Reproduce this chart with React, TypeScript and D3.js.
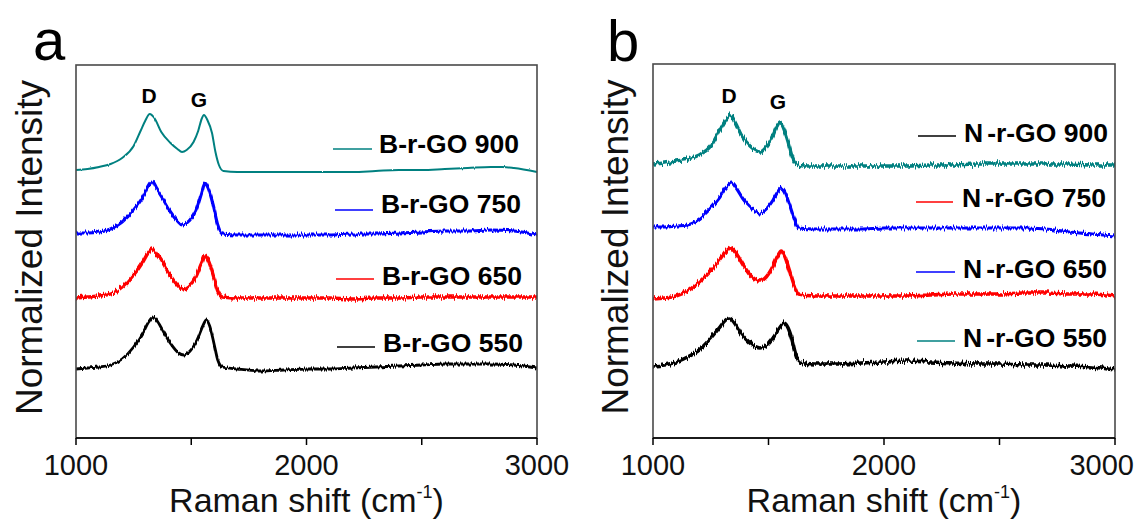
import React from "react";
import * as d3 from "d3";

// ---------- DATA ----------
// Panel a : B-r-GO (Raman shift in cm-1, normalized intensity with stacking offset, a.u.)
const bRGO900_x = [1000,1050,1100,1150,1200,1250,1280,1300,1320,1340,1370,1410,1440,1460,1480,1510,1530,1545,1555,1570,1590,1605,1620,1640,1700,1800,1900,2000,2100,2200,2300,2400,2500,2600,2700,2800,2850,2900,3000];
const bRGO900_y = [268,269,271,274,280,292,307,317,324,320,306,295,289,286,288,296,307,319,323,318,305,286,273,267,266,266,266,266,266,266,267,268,268,269,270,271,271,270,266];

const bRGO750_x = [1000,1050,1100,1150,1200,1250,1290,1310,1330,1350,1380,1410,1440,1460,1490,1520,1545,1560,1575,1595,1615,1635,1700,1800,1900,2000,2100,2200,2300,2400,2500,2600,2700,2800,2900,3000];
const bRGO750_y = [205,205,206,209,216,228,241,250,256,249,238,226,217,213,217,227,245,255,249,233,213,204,203,203,203,203,203,204,204,205,206,207,207,208,207,203];

const bRGO650_x = [1000,1050,1100,1150,1200,1250,1290,1310,1330,1350,1380,1410,1440,1460,1490,1520,1545,1560,1575,1595,1615,1635,1700,1800,1900,2000,2100,2200,2300,2400,2500,2600,2700,2800,2900,3000];
const bRGO650_y = [140,141,142,144,151,163,176,184,189,184,174,162,153,149,152,161,175,182,177,163,147,141,140,140,140,140,140,139,140,140,141,141,141,141,141,141];

const bRGO550_x = [1000,1050,1100,1150,1200,1250,1290,1315,1335,1355,1385,1415,1445,1468,1495,1525,1550,1565,1580,1600,1615,1635,1700,1800,1900,2000,2100,2200,2300,2400,2500,2600,2700,2800,2900,3000];
const bRGO550_y = [69,70,71,73,79,91,105,116,121,116,104,93,85,83,87,98,112,118,112,93,78,71,69,67,68,69,69,70,71,72,73,74,74,74,73,70];

// Panel b : N-r-GO
const nRGO900_x = [1000,1050,1100,1150,1200,1250,1290,1315,1335,1355,1380,1420,1463,1490,1515,1535,1550,1565,1585,1600,1615,1650,1700,1800,1900,2000,2100,2200,2300,2400,2500,2600,2700,2800,2900,3000];
const nRGO900_y = [274,275,277,279,283,292,308,318,323,316,304,292,286,291,300,311,316,310,296,283,275,272,272,272,272,272,272,273,273,274,274,274,274,274,273,273];

const nRGO750_x = [1000,1050,1100,1150,1200,1250,1290,1315,1340,1360,1390,1420,1463,1490,1520,1540,1555,1570,1590,1610,1630,1700,1800,1900,2000,2100,2200,2300,2400,2500,2600,2700,2800,2900,3000];
const nRGO750_y = [211,211,212,213,219,230,241,250,255,250,239,231,225,229,238,246,250,246,234,220,210,209,209,209,210,210,210,210,210,210,210,209,206,204,202];

const nRGO650_x = [1000,1050,1100,1150,1200,1250,1290,1315,1335,1355,1390,1420,1463,1490,1520,1540,1555,1570,1590,1610,1630,1700,1800,1900,2000,2100,2200,2300,2400,2500,2600,2700,2800,2900,3000];
const nRGO650_y = [139,140,142,147,156,167,178,186,190,186,173,163,157,161,172,182,187,182,168,153,144,142,142,142,142,142,143,144,144,144,145,145,144,144,142];

const nRGO550_x = [1000,1050,1100,1150,1200,1250,1290,1310,1330,1350,1380,1420,1463,1495,1520,1545,1568,1585,1600,1615,1635,1700,1800,1900,2000,2100,2200,2300,2400,2500,2600,2700,2800,2900,3000];
const nRGO550_y = [72,73,76,81,88,100,111,117,120,116,105,95,90,93,100,109,115,110,100,86,76,74,74,75,76,77,76,75,74,74,73,73,72,71,68];

const xTicksMajor = [1000, 2000, 3000];
const xTicksMinor = [1500, 2500];
const panelLetters = ["a", "b"];
const peakLabels = ["D", "G"];
const legendA = ["B-r-GO 900", "B-r-GO 750", "B-r-GO 650", "B-r-GO 550"];
const legendB = ["900", "750", "650", "550"];

const TEAL = "#008080";
const BLUE = "#0000ff";
const RED = "#ff0000";
const BLACK = "#000000";

const FONT = "'Liberation Sans', Arial, Helvetica, sans-serif";

type Series = { xs: number[]; ys: number[]; color: string; width: number; noise: number };

const panels = [
  {
    id: "a",
    letter: panelLetters[0],
    left: 76, right: 537, top: 65, bottom: 438,
    letterX: 33, letterY: 60,
    yLabelX: 42,
    lastTickAnchor: "middle",
    series: [
      { xs: bRGO900_x, ys: bRGO900_y, color: TEAL, width: 2, noise: 2 },
      { xs: bRGO750_x, ys: bRGO750_y, color: BLUE, width: 3.2, noise: 6 },
      { xs: bRGO650_x, ys: bRGO650_y, color: RED, width: 3.4, noise: 8 },
      { xs: bRGO550_x, ys: bRGO550_y, color: BLACK, width: 2.8, noise: 5 },
    ] as Series[],
    peaks: [
      { label: peakLabels[0], x: 149, y: 103 },
      { label: peakLabels[1], x: 199, y: 107 },
    ],
    legend: [
      { text: legendA[0], color: TEAL, lineY: 149, textY: 153, x1: 333, x2: 372, tx: 379, nSplit: false },
      { text: legendA[1], color: BLUE, lineY: 210, textY: 213, x1: 335, x2: 373, tx: 381, nSplit: false },
      { text: legendA[2], color: RED, lineY: 279, textY: 285, x1: 336, x2: 374, tx: 382, nSplit: false },
      { text: legendA[3], color: BLACK, lineY: 347, textY: 352, x1: 337, x2: 375, tx: 383, nSplit: false },
    ],
  },
  {
    id: "b",
    letter: panelLetters[1],
    left: 653, right: 1115, top: 64, bottom: 438,
    letterX: 607, letterY: 61,
    yLabelX: 628,
    lastTickAnchor: "end",
    series: [
      { xs: nRGO900_x, ys: nRGO900_y, color: TEAL, width: 3.4, noise: 8 },
      { xs: nRGO750_x, ys: nRGO750_y, color: BLUE, width: 3.2, noise: 7 },
      { xs: nRGO650_x, ys: nRGO650_y, color: RED, width: 3.6, noise: 8 },
      { xs: nRGO550_x, ys: nRGO550_y, color: BLACK, width: 3.6, noise: 8 },
    ] as Series[],
    peaks: [
      { label: peakLabels[0], x: 729, y: 103 },
      { label: peakLabels[1], x: 778, y: 109 },
    ],
    legend: [
      { text: legendB[0], color: BLACK, lineY: 136, textY: 142, x1: 918, x2: 956, tx: 964, nSplit: true },
      { text: legendB[1], color: RED, lineY: 202, textY: 207, x1: 916, x2: 953, tx: 962, nSplit: true },
      { text: legendB[2], color: BLUE, lineY: 272, textY: 278, x1: 916, x2: 955, tx: 963, nSplit: true },
      { text: legendB[3], color: TEAL, lineY: 341, textY: 347, x1: 917, x2: 955, tx: 963, nSplit: true },
    ],
  },
];

function NoiseFilter({ id, scale, seed }: { id: string; scale: number; seed: number }) {
  return (
    <filter id={id} x="-5%" y="-30%" width="110%" height="160%">
      <feTurbulence type="fractalNoise" baseFrequency="0.9 0.04" numOctaves={2} seed={seed} result="n" />
      <feColorMatrix
        in="n"
        type="matrix"
        values="0 0 0 0 0.5  0 1 0 0 0  0 0 1 0 0  0 0 0 0 1"
        result="m"
      />
      <feDisplacementMap in="SourceGraphic" in2="m" scale={scale} xChannelSelector="R" yChannelSelector="G" />
    </filter>
  );
}

function Panel({ p }: { p: (typeof panels)[number] }) {
  const x = d3.scaleLinear().domain([1000, 3000]).range([p.left, p.right]);
  const y = d3.scaleLinear().domain([0, 373]).range([438, 65]);
  const line = d3
    .line<[number, number]>()
    .x((d) => x(d[0]))
    .y((d) => y(d[1]))
    .curve(d3.curveMonotoneX);
  const cx = (p.left + p.right) / 2;
  const cy = (p.top + p.bottom) / 2;
  return (
    <g>
      <defs>
        {p.series.map((s, i) => (
          <NoiseFilter key={i} id={`noise-${p.id}-${i}`} scale={s.noise} seed={i * 7 + (p.id === "a" ? 3 : 11)} />
        ))}
      </defs>
      {/* series */}
      {p.series.map((s, i) => (
        <path
          key={i}
          d={line(s.xs.map((v, j) => [v, s.ys[j]] as [number, number])) || ""}
          fill="none"
          stroke={s.color}
          strokeWidth={s.width}
          strokeLinejoin="round"
          filter={`url(#noise-${p.id}-${i})`}
        />
      ))}
      {/* frame */}
      <rect
        x={p.left}
        y={p.top}
        width={p.right - p.left}
        height={p.bottom - p.top}
        fill="none"
        stroke="#4a4a4a"
        strokeWidth={1.6}
      />
      <line x1={p.left} x2={p.right} y1={p.bottom} y2={p.bottom} stroke="#000" strokeWidth={1.6} />
      {/* ticks */}
      {[...xTicksMajor, ...xTicksMinor].map((t) => (
        <line key={t} x1={x(t)} x2={x(t)} y1={p.bottom} y2={p.bottom + 7} stroke="#000" strokeWidth={1.5} />
      ))}
      {xTicksMajor.map((t, i) => {
        const last = i === xTicksMajor.length - 1 && p.lastTickAnchor === "end";
        return (
          <text
            key={t}
            x={last ? 1134 : x(t)}
            y={475}
            textAnchor={last ? "end" : "middle"}
            fontFamily={FONT}
            fontSize={29}
            fill="#111"
          >
            {t}
          </text>
        );
      })}
      {/* axis titles */}
      <text x={cx} y={512} textAnchor="middle" fontFamily={FONT} fontSize={34} fill="#111">
        Raman shift (cm
        <tspan fontSize={18} dy={-14}>-1</tspan>
        <tspan dy={14}>)</tspan>
      </text>
      <text
        transform={`translate(${p.yLabelX},${cy - 4}) rotate(-90)`}
        textAnchor="middle"
        fontFamily={FONT}
        fontSize={37}
        fill="#111"
      >
        Normalized Intensity
      </text>
      {/* panel letter */}
      <text x={p.letterX} y={p.letterY} fontFamily={FONT} fontSize={58} fill="#000">
        {p.letter}
      </text>
      {/* peak labels */}
      {p.peaks.map((k) => (
        <text key={k.label} x={k.x} y={k.y} textAnchor="middle" fontFamily={FONT} fontWeight="bold" fontSize={21} fill="#000">
          {k.label}
        </text>
      ))}
      {/* legend */}
      {p.legend.map((l, i) => (
        <g key={i}>
          <line x1={l.x1} x2={l.x2} y1={l.lineY} y2={l.lineY} stroke={l.color} strokeWidth={1.6} />
          <text x={l.tx} y={l.textY} fontFamily={FONT} fontWeight="bold" fontSize={26.5} fill="#000">
            {l.nSplit ? (
              <>
                <tspan>N</tspan>
                <tspan dx={4}>{`-r-GO ${l.text}`}</tspan>
              </>
            ) : (
              l.text
            )}
          </text>
        </g>
      ))}
    </g>
  );
}

export default function App() {
  return (
    <svg
      width={1135}
      height={520}
      viewBox="0 0 1135 520"
      style={{ position: "absolute", left: 0, top: 0, background: "#fff" }}
    >
      <rect x={0} y={0} width={1135} height={520} fill="#fff" />
      {panels.map((p) => (
        <Panel key={p.letter} p={p} />
      ))}
    </svg>
  );
}
